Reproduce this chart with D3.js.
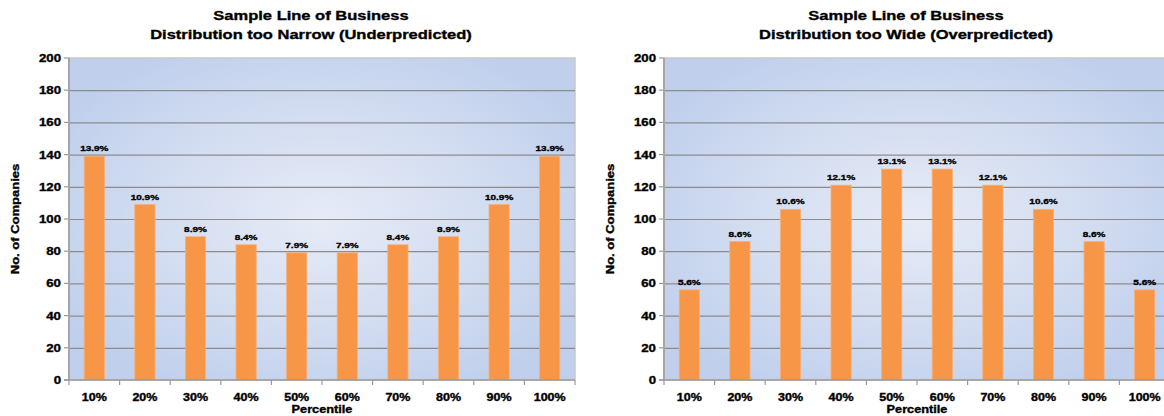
<!DOCTYPE html>
<html><head><meta charset="utf-8">
<script src="https://cdn.jsdelivr.net/npm/d3@7"></script>
<style>
html,body{margin:0;padding:0;background:#fff;}
svg{display:block;}
text{font-family:"Liberation Sans",Arial,sans-serif;font-weight:bold;fill:#000;stroke:#000;stroke-width:0.35px;}
</style></head>
<body>
<svg id="c" width="1164" height="416"></svg>
<script>
const categories = ["10%","20%","30%","40%","50%","60%","70%","80%","90%","100%"];
const narrowValues = [139,109,89,84,79,79,84,89,109,139];
const narrowLabels = ["13.9%","10.9%","8.9%","8.4%","7.9%","7.9%","8.4%","8.9%","10.9%","13.9%"];
const wideValues = [56,86,106,121,131,131,121,106,86,56];
const wideLabels = ["5.6%","8.6%","10.6%","12.1%","13.1%","13.1%","12.1%","10.6%","8.6%","5.6%"];
const yTicks = [0,20,40,60,80,100,120,140,160,180,200];
const titleLine1 = "Sample Line of Business";
const narrowTitle2 = "Distribution too Narrow (Underpredicted)";
const wideTitle2 = "Distribution too Wide (Overpredicted)";
const xTitle = "Percentile";
const yTitle = "No. of Companies";

const svg = d3.select("#c");
const SX = 1.25;

const defs = svg.append("defs");
const grad = defs.append("radialGradient").attr("id","bg").attr("cx","0.5").attr("cy","0.5").attr("r","0.6");
grad.append("stop").attr("offset","0").attr("stop-color","#e6ebf6");
grad.append("stop").attr("offset","0.55").attr("stop-color","#d3ddf1");
grad.append("stop").attr("offset","1").attr("stop-color","#bfcfec");

function stxt(g, x, y, s, size, anchor, rot) {
  return g.append("text")
    .attr("transform", `translate(${x},${y}) ${rot ? "rotate(" + rot + ")" : ""} scale(${SX},1)`)
    .attr("text-anchor", anchor)
    .style("font-size", size + "px")
    .text(s);
}

function drawChart(left, values, labels, title2) {
  const right = left + 506, top = 58, bottom = 380;
  const g = svg.append("g");
  const x = d3.scaleBand().domain(categories).range([left, right]).paddingInner(0.6).paddingOuter(0.3);
  const y = d3.scaleLinear().domain([0,200]).range([bottom, top]);

  g.append("rect").attr("x", left).attr("y", top).attr("width", right-left).attr("height", bottom-top)
    .attr("fill", "url(#bg)").attr("stroke", "#c8c8c8").attr("stroke-width", 1.5);

  const yAxis = d3.axisLeft(y).tickValues(yTicks).tickSize(-(right-left)).tickFormat("");
  const ga = g.append("g").attr("transform", `translate(${left},0)`).call(yAxis);
  ga.select(".domain").remove();
  ga.selectAll(".tick line").attr("stroke", d => d === 200 || d === 0 ? "none" : "#8c8c8c").attr("stroke-width", 1.2);

  yTicks.forEach(t => {
    g.append("line").attr("x1", left-5).attr("x2", left).attr("y1", y(t)).attr("y2", y(t))
      .attr("stroke", "#9a9a9a").attr("stroke-width", 1.2);
    stxt(g, left-8, y(t)+4, String(t), 10.6, "end");
  });

  g.selectAll("rect.bar").data(values).enter().append("rect").attr("class","bar")
    .attr("x", (d,i) => x(categories[i]))
    .attr("y", d => y(d))
    .attr("width", x.bandwidth())
    .attr("height", d => y(0) - y(d))
    .attr("fill", "#f79646").attr("stroke", "#f9b07a").attr("stroke-width", 0.8);

  values.forEach((v,i) => {
    stxt(g, x(categories[i]) + x.bandwidth()/2, y(v) - 5, labels[i], 8, "middle");
  });

  g.append("line").attr("x1", left).attr("x2", left).attr("y1", top).attr("y2", bottom)
    .attr("stroke", "#a6a6a6").attr("stroke-width", 2);
  g.append("line").attr("x1", left-5).attr("x2", right).attr("y1", bottom).attr("y2", bottom)
    .attr("stroke", "#9a9a9a").attr("stroke-width", 1.5);
  const step = x.step();
  for (let i = 0; i <= categories.length; i++) {
    const xx = left + i*step;
    g.append("line").attr("x1", xx).attr("x2", xx).attr("y1", bottom).attr("y2", bottom+5)
      .attr("stroke", "#9a9a9a").attr("stroke-width", 1.2);
  }
  categories.forEach(c => {
    stxt(g, x(c) + x.bandwidth()/2, 401, c, 10, "middle");
  });

  const tc = left + 242;
  stxt(g, tc, 20, titleLine1, 13.2, "middle");
  stxt(g, tc, 39, title2, 13.2, "middle");
  stxt(g, (left+right)/2, 413, xTitle, 10.2, "middle");
  stxt(g, left - 50, (top+bottom)/2, yTitle, 10.4, "middle", -90);
}

drawChart(69, narrowValues, narrowLabels, narrowTitle2);
drawChart(664, wideValues, wideLabels, wideTitle2);
</script>
</body></html>
